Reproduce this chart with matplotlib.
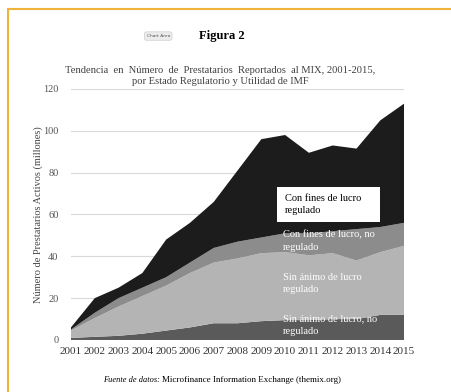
import matplotlib
matplotlib.use("Agg")
import matplotlib.pyplot as plt
import numpy as np
from matplotlib.lines import Line2D
from matplotlib.patches import Rectangle

# data (millions of active borrowers, stacked)
years = np.arange(2001, 2016)
sin_no_reg = [1, 1.5, 2, 3, 4.5, 6, 8, 8, 9, 9.5, 9.5, 10, 10, 12, 12]
sin_reg_top = [4.5, 10.5, 16, 21, 26, 32, 37, 39, 41.5, 42, 40.5, 41.5, 38, 42, 45]
con_no_reg_top = [5, 13, 20, 25, 30, 37, 44, 47, 49, 51, 51, 52, 53, 54, 56]
total = [6, 20, 25, 32, 48, 56, 66, 81, 96, 98, 89.5, 93, 91.5, 105, 113]

sin_reg = np.array(sin_reg_top) - np.array(sin_no_reg)
con_no_reg = np.array(con_no_reg_top) - np.array(sin_reg_top)
con_reg = np.array(total) - np.array(con_no_reg_top)

labels = ["Sin ánimo de lucro, no\nregulado", "Sin ánimo de lucro\nregulado",
          "Con fines de lucro, no\nregulado", "Con fines de lucro\nregulado"]
colors = ["#5a5a5a", "#b4b4b4", "#8c8c8c", "#1c1c1c"]

plt.rcParams['font.family'] = ['Liberation Serif', 'DejaVu Serif']

fig = plt.figure(figsize=(4.52, 3.92), dpi=100)
ax = fig.add_axes([0.157, 0.1327, 0.737, 0.6403])

ax.stackplot(years, sin_no_reg, sin_reg, con_no_reg, con_reg, colors=colors, linewidth=0)
ax.set_xlim(2001, 2015)
ax.set_ylim(0, 120)
ax.set_yticks(range(0, 121, 20))
ax.set_xticks(years)
ax.yaxis.grid(True, color="#d9d9d9", linewidth=0.8)
ax.set_axisbelow(True)
for s in ax.spines.values():
    s.set_visible(False)
ax.tick_params(axis="x", length=0, labelsize=8, colors="#333333", pad=5)
ax.tick_params(axis="y", length=0, labelsize=7.5, colors="#555555", pad=9)
ax.set_ylabel("Número de Prestatarios Activos (millones)", fontsize=7.5, color="#444444")
ax.yaxis.set_label_coords(-0.084, 0.5)

# labels inside the areas
ax.add_patch(Rectangle((2009.66, 56.5), 4.34, 16.7, facecolor="white", edgecolor="none", zorder=3))
ax.text(2010.0, 64.8, labels[3], fontsize=7.5, color="black", va="center", ha="left",
        linespacing=1.5, zorder=4)
ax.text(2009.9, 47.5, labels[2], fontsize=7.5, color="white", va="center", ha="left", linespacing=1.5)
ax.text(2009.9, 27.0, labels[1], fontsize=7.5, color="white", va="center", ha="left", linespacing=1.5)
ax.text(2009.9, 7.0, labels[0], fontsize=7.5, color="white", va="center", ha="left", linespacing=1.5)

fig.text(0.487, 0.806, "Tendencia  en  Número  de  Prestatarios  Reportados  al MIX, 2001-2015,\npor Estado Regulatorio y Utilidad de IMF",
         ha="center", va="center", fontsize=7.6, color="#404040", linespacing=1.4)
fig.text(0.49, 0.908, "Figura 2", ha="center", va="center", fontsize=9, fontweight="bold")
fig.text(0.35, 0.908, "Chart Area", ha="center", va="center", fontsize=3.2, color="#555555",
         family="DejaVu Sans",
         bbox=dict(boxstyle="round,pad=0.5", facecolor="#ececec", edgecolor="#cfcfcf", linewidth=0.5))
fig.text(0.228, 0.030, "Fuente de datos:", ha="left", va="center", fontsize=6, style="italic")
fig.text(0.358, 0.030, "Microfinance Information Exchange (themix.org)", ha="left", va="center", fontsize=6.5)

# orange frame of the screenshot
fig.add_artist(Line2D([0.0172, 0.0172], [0.0, 0.976], color="#f0b43c", linewidth=1.5, transform=fig.transFigure))
fig.add_artist(Line2D([0.0172, 1.0], [0.976, 0.976], color="#f0b43c", linewidth=1.5, transform=fig.transFigure))

fig.savefig("out.png", dpi=100)
